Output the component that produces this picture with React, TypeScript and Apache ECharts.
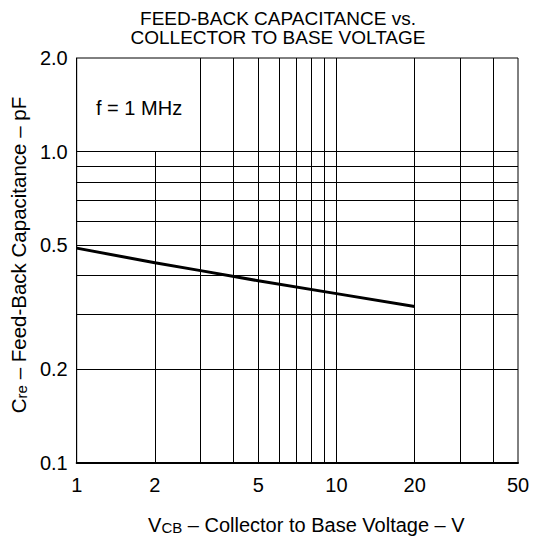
import React, { useEffect, useRef } from 'react';
import * as echarts from 'echarts';

// ---- data ----
const vcb = [1, 2, 3, 5, 10, 20];
const cre = [0.49, 0.44, 0.415, 0.385, 0.35, 0.318];
const xLabelValues = [1, 2, 5, 10, 20, 50];
const yLabelValues = [0.1, 0.2, 0.5, 1.0, 2.0];
const xGridValues = [3, 4, 5, 6, 7, 8, 9, 10, 20, 30, 40];
const xShortGridValues = [2];
const xShortGridTop = 1.0;
const yGridValues = [0.2, 0.3, 0.4, 0.5, 0.6, 0.7, 0.8, 0.9, 1.0];
const titleLines = ['FEED-BACK CAPACITANCE vs.', 'COLLECTOR TO BASE VOLTAGE'];
const noteText = 'f = 1 MHz';
const xMin = 1;
const xMax = 50;
const yMin = 0.1;
const yMax = 2.0;

const FONT = '"Liberation Sans", Arial, Helvetica, sans-serif';

export default function App() {
  const ref = useRef<HTMLDivElement>(null);

  useEffect(() => {
    if (!ref.current) return;
    const chart = echarts.init(ref.current, undefined, { renderer: 'svg' });

    const gridLines: any[] = [];
    xGridValues.forEach((v) => gridLines.push({ xAxis: v }));
    yGridValues.forEach((v) => gridLines.push({ yAxis: v }));
    xShortGridValues.forEach((v) =>
      gridLines.push([{ coord: [v, yMin] }, { coord: [v, xShortGridTop] }])
    );

    const option: any = {
      animation: false,
      backgroundColor: '#fff',
      textStyle: { fontFamily: FONT, color: '#000' },
      title: {
        text: titleLines.join('\n'),
        left: 273,
        top: 4,
        textAlign: 'center',
        textStyle: {
          fontFamily: FONT,
          fontSize: 19,
          fontWeight: 'normal',
          color: '#000',
          lineHeight: 19,
        },
      },
      grid: {
        left: 73,
        right: 18,
        top: 58,
        bottom: 76,
        show: true,
        borderColor: '#000',
        borderWidth: 1,
        backgroundColor: 'transparent',
      },
      xAxis: {
        type: 'log',
        logBase: 10,
        min: xMin,
        max: xMax,
        name: '{a|V}{b|CB}{a| – Collector to Base Voltage – V}',
        nameLocation: 'middle',
        nameGap: 52,
        nameTextStyle: {
          padding: [0, 0, 0, 18],
          rich: {
            a: { fontFamily: FONT, fontSize: 20, color: '#000' },
            b: { fontFamily: FONT, fontSize: 15, color: '#000', verticalAlign: 'bottom', padding: [4, 0, 0, 0] },
          },
        },
        axisLine: { show: true, lineStyle: { color: '#000', width: 2 } },
        axisTick: { show: false },
        splitLine: { show: false },
        minorSplitLine: { show: false },
        axisLabel: {
          customValues: xLabelValues,
          formatter: (v: number) => String(v),
          fontFamily: FONT,
          fontSize: 20,
          color: '#000',
          margin: 12,
        },
      },
      yAxis: {
        type: 'log',
        logBase: 10,
        min: yMin,
        max: yMax,
        name: '{a|C}{b|re}{a| – Feed-Back Capacitance – pF}',
        nameLocation: 'middle',
        nameGap: 46,
        nameRotate: 90,
        nameTextStyle: {
          padding: [0, 0, 0, 11],
          rich: {
            a: { fontFamily: FONT, fontSize: 20.5, color: '#000' },
            b: { fontFamily: FONT, fontSize: 15, color: '#000', verticalAlign: 'bottom', padding: [4, 0, 0, 0] },
          },
        },
        axisLine: { show: true, lineStyle: { color: '#000', width: 1 } },
        axisTick: { show: false },
        splitLine: { show: false },
        minorSplitLine: { show: false },
        axisLabel: {
          customValues: yLabelValues,
          formatter: (v: number) => v.toFixed(1),
          fontFamily: FONT,
          fontSize: 20,
          color: '#000',
          margin: 9,
        },
      },
      graphic: [
        {
          type: 'text',
          left: 96,
          top: 98,
          style: {
            text: noteText,
            fontFamily: FONT,
            fontSize: 20,
            fill: '#000',
          },
        },
      ],
      series: [
        {
          type: 'line',
          data: vcb.map((v, i) => [v, cre[i]]),
          showSymbol: false,
          symbol: 'none',
          lineStyle: { color: '#000', width: 3 },
          z: 5,
          markLine: {
            silent: true,
            symbol: ['none', 'none'],
            label: { show: false },
            lineStyle: { color: '#000', width: 1, type: 'solid' },
            z: 1,
            data: gridLines,
          },
        },
      ],
    };

    chart.setOption(option);
    return () => chart.dispose();
  }, []);

  return (
    <div
      ref={ref}
      style={{ position: 'fixed', left: 0, top: 0, width: 536, height: 540 }}
    />
  );
}
